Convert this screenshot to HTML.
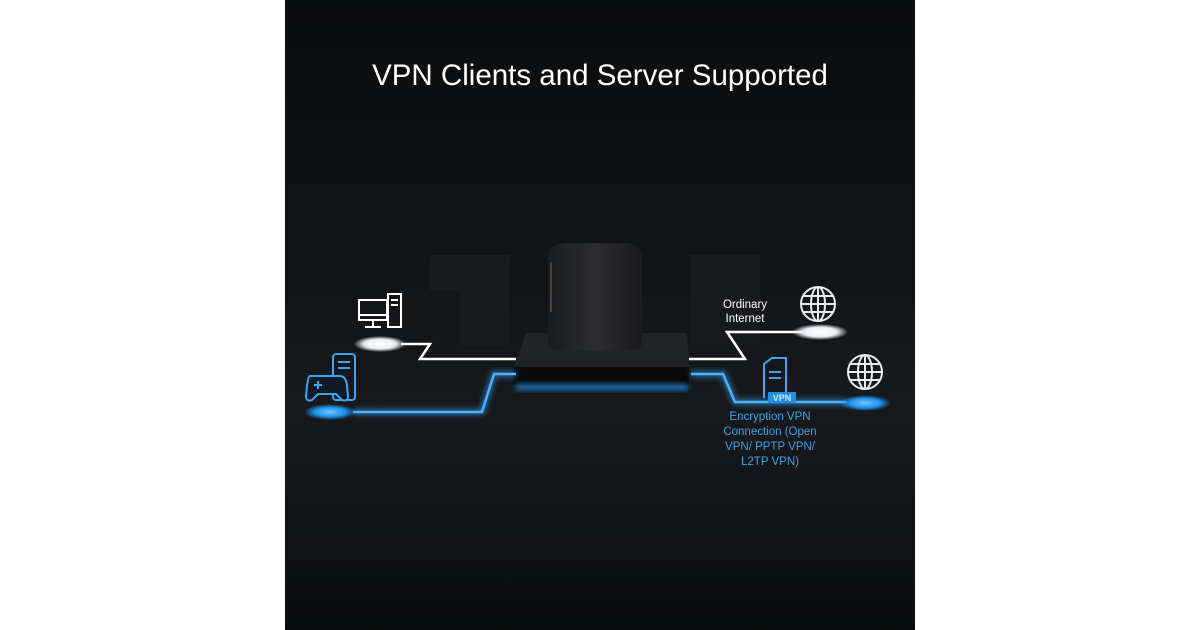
<!DOCTYPE html>
<html><head><meta charset="utf-8"><style>
html,body{margin:0;padding:0;background:#fff;width:1200px;height:630px;overflow:hidden}
svg{display:block}
text{font-family:"Liberation Sans",sans-serif}
</style></head><body>
<svg width="1200" height="630" viewBox="0 0 1200 630" xmlns="http://www.w3.org/2000/svg">
<defs>
<linearGradient id="bg" x1="0" y1="0" x2="0" y2="1">
<stop offset="0" stop-color="#0b0c0e"/><stop offset="0.45" stop-color="#121416"/><stop offset="0.65" stop-color="#17191c"/><stop offset="0.85" stop-color="#121316"/><stop offset="1" stop-color="#0a0b0c"/></linearGradient>
<radialGradient id="wd"><stop offset="0" stop-color="#fff"/><stop offset="0.6" stop-color="#e8eef4"/><stop offset="1" stop-color="#fff" stop-opacity="0"/></radialGradient>
<radialGradient id="bd"><stop offset="0" stop-color="#6cc8ff"/><stop offset="0.6" stop-color="#1e8fe8"/><stop offset="1" stop-color="#1e8fe8" stop-opacity="0"/></radialGradient>
<linearGradient id="rt" x1="0" y1="0" x2="1" y2="0"><stop offset="0" stop-color="#1b1c1e"/><stop offset="0.5" stop-color="#2c2d30"/><stop offset="1" stop-color="#1a1b1d"/></linearGradient>
<filter id="gl" x="-20%" y="-50%" width="140%" height="200%"><feGaussianBlur stdDeviation="3"/></filter>
</defs>
<rect x="285" y="0" width="630" height="630" fill="url(#bg)"/>
<rect x="430" y="255" width="80" height="90" fill="#191b1e"/>
<rect x="690" y="255" width="70" height="90" fill="#181a1d"/>
<rect x="400" y="290" width="60" height="60" fill="#141618"/>
<text x="600" y="85" text-anchor="middle" fill="#fff" font-size="29.5">VPN Clients and Server Supported</text>
<polygon points="526,333 687,333 689,367 514,367" fill="#232427"/>
<rect x="514" y="367" width="175" height="18" fill="#0a0a0b"/>
<rect x="516" y="384" width="172" height="6" fill="#1e8fe8" filter="url(#gl)" opacity="0.8"/>
<path d="M548,258 Q548,243 565,243 L625,243 Q642,243 642,258 L642,342 Q642,350 632,350 L558,350 Q548,350 548,342 Z" fill="url(#rt)"/>
<rect x="550" y="262" width="2" height="50" fill="#444"/>
<g stroke="#fff" stroke-width="2.5" fill="none">
<polyline points="401,344 430,344 420,359 516,359"/>
<polyline points="689,359 745,359 727,332 803,332"/>
</g>
<g stroke="#2e9cf0" stroke-width="6" fill="none" opacity="0.6" filter="url(#gl)">
<polyline points="353,412 482,412 494,374 516,374"/>
<polyline points="691,374 723,374 735,402 847,402"/>
</g>
<g stroke="#4ab2ff" stroke-width="2.5" fill="none">
<polyline points="353,412 482,412 494,374 516,374"/>
<polyline points="691,374 723,374 735,402 847,402"/>
</g>
<ellipse cx="380" cy="344" rx="26" ry="8" fill="url(#wd)"/>
<ellipse cx="820" cy="332" rx="28" ry="8" fill="url(#wd)"/>
<ellipse cx="330" cy="412" rx="26" ry="8" fill="url(#bd)"/>
<ellipse cx="865" cy="403" rx="26" ry="8" fill="url(#bd)"/>
<g stroke="#fff" stroke-width="2" fill="none">
<rect x="359" y="300" width="28" height="20"/><line x1="359" y1="315" x2="387" y2="315"/>
<line x1="373" y1="320" x2="373" y2="327"/><line x1="365" y1="327" x2="381" y2="327"/>
<rect x="388" y="294" width="13" height="33"/><line x1="391" y1="300" x2="398" y2="300"/><line x1="391" y1="305" x2="398" y2="305"/>
</g>
<g stroke="#3aa6f5" stroke-width="2" fill="none">
<rect x="333" y="354" width="22" height="46" rx="3"/>
<line x1="338" y1="362" x2="350" y2="362"/><line x1="338" y1="368" x2="350" y2="368"/>
<path d="M310,376 L340,376 Q346,376 347,386 L348,396 Q348,402 342,400 L336,394 L318,394 L312,400 Q306,402 306,396 L307,386 Q308,376 310,376Z" fill="#0f1a26"/>
<line x1="314" y1="385" x2="322" y2="385"/><line x1="318" y1="381" x2="318" y2="389"/>
</g>
<g stroke="#e8ecf0" stroke-width="2" fill="none">
<circle cx="818" cy="304" r="17"/><ellipse cx="818" cy="304" rx="7" ry="17"/><line x1="801" y1="304" x2="835" y2="304"/><line x1="803" y1="296" x2="833" y2="296"/><line x1="803" y1="312" x2="833" y2="312"/><line x1="818" y1="287" x2="818" y2="321"/>
<circle cx="865" cy="372" r="17"/><ellipse cx="865" cy="372" rx="7" ry="17"/><line x1="848" y1="372" x2="882" y2="372"/><line x1="850" y1="364" x2="880" y2="364"/><line x1="850" y1="380" x2="880" y2="380"/><line x1="865" y1="355" x2="865" y2="389"/>
</g>
<g stroke="#3aa6f5" stroke-width="2" fill="none">
<path d="M764,398 L764,364 L772,358 L786,358 L786,398"/>
<line x1="769" y1="372" x2="781" y2="372"/><line x1="769" y1="378" x2="781" y2="378"/>
</g>
<rect x="768" y="392" width="28" height="11" fill="#1f8fe0"/>
<text x="782" y="401" text-anchor="middle" fill="#cfeaff" font-size="9" font-weight="bold">VPN</text>
<text x="745" y="308" text-anchor="middle" fill="#fff" font-size="11.5">Ordinary</text>
<text x="745" y="322" text-anchor="middle" fill="#fff" font-size="11.5">Internet</text>
<g fill="#3fa3e6" font-size="11.5" text-anchor="middle">
<text x="770" y="420">Encryption VPN</text>
<text x="770" y="435">Connection (Open</text>
<text x="770" y="450">VPN/ PPTP VPN/</text>
<text x="770" y="465">L2TP VPN)</text>
</g>
</svg>
</body></html>
